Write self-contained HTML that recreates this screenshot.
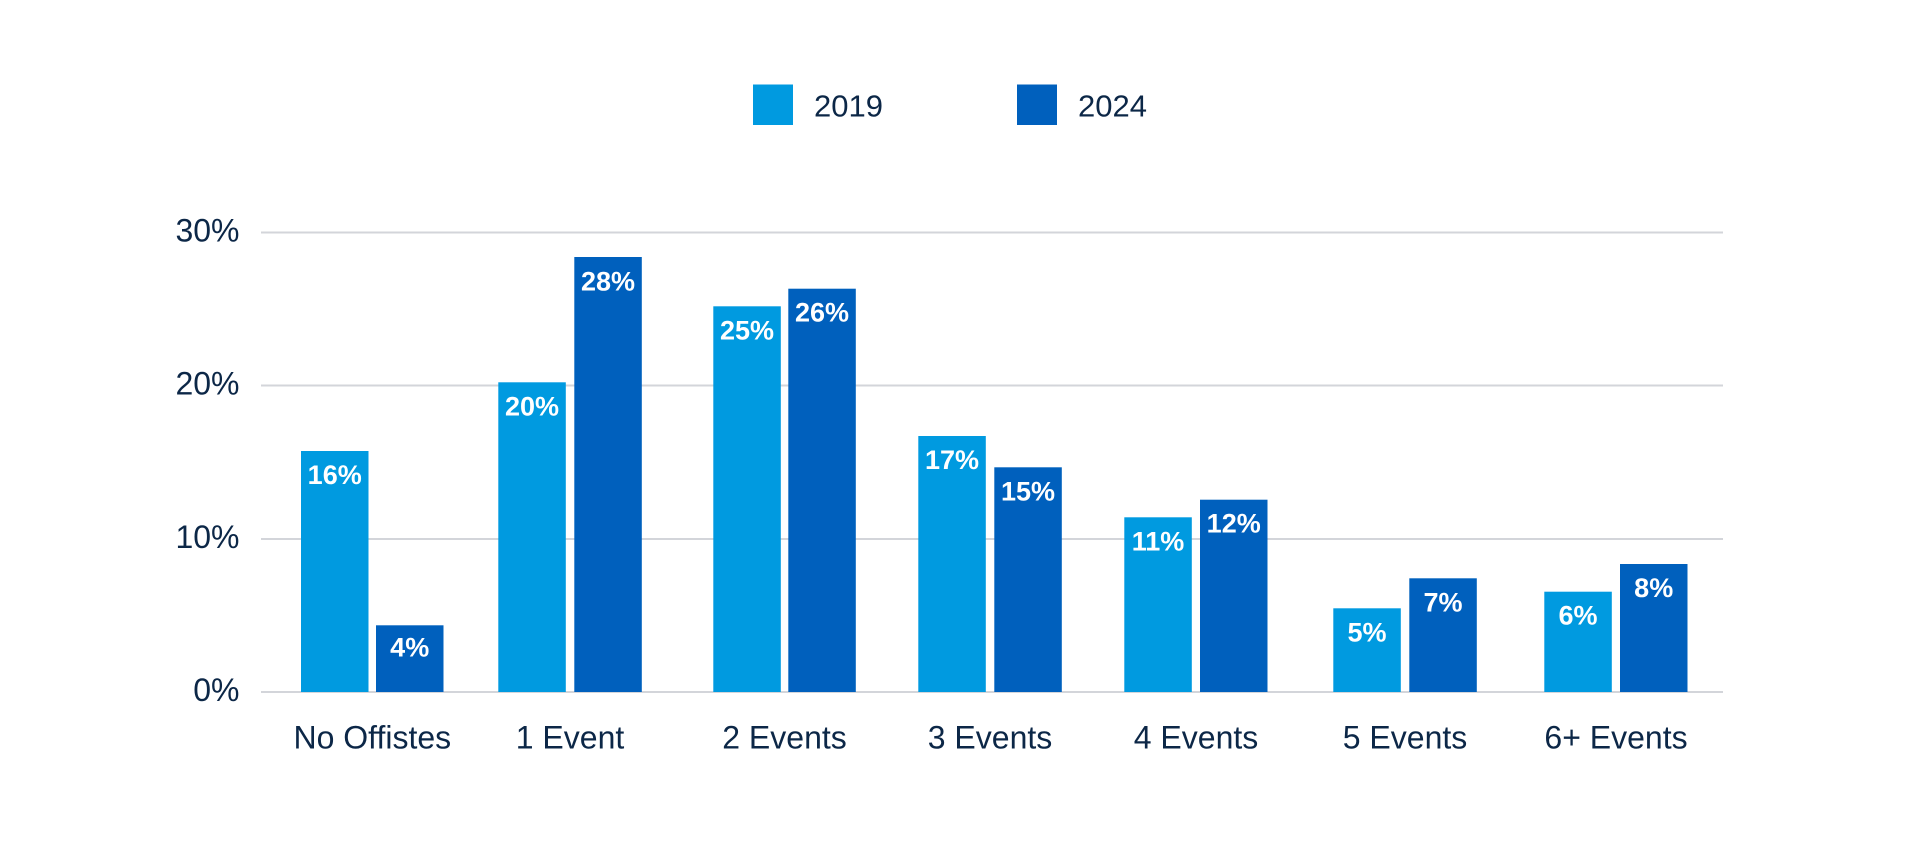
<!DOCTYPE html>
<html><head><meta charset="utf-8"><style>
html,body{margin:0;padding:0;background:#fff;}
svg{display:block;}
text{font-family:"Liberation Sans",sans-serif;}
</style></head><body>
<svg width="1921" height="848" viewBox="0 0 1921 848" xmlns="http://www.w3.org/2000/svg">
<rect width="1921" height="848" fill="#fff"/>
<!-- legend -->
<rect x="753" y="84.5" width="40" height="40.5" fill="#009ae0"/>
<text x="814" y="116.7" font-size="31" fill="#0c2747">2019</text>
<rect x="1017" y="84.5" width="40" height="40.5" fill="#0060bd"/>
<text x="1078" y="116.7" font-size="31" fill="#0c2747">2024</text>
<!-- gridlines -->
<g stroke="#d3d5da" stroke-width="2">
<line x1="261" y1="232.5" x2="1723" y2="232.5"/>
<line x1="261" y1="385.5" x2="1723" y2="385.5"/>
<line x1="261" y1="539" x2="1723" y2="539"/>
<line x1="261" y1="692" x2="1723" y2="692"/>
</g>
<!-- y labels -->
<g font-size="32" fill="#0c2747" text-anchor="end">
<text x="239.5" y="241.7">30%</text>
<text x="239.5" y="394.7">20%</text>
<text x="239.5" y="548">10%</text>
<text x="239.5" y="701">0%</text>
</g>
<!-- bars -->
<g fill="#009ae0">
<rect x="301" y="451" width="67.5" height="241"/>
<rect x="498.3" y="382.3" width="67.5" height="309.7"/>
<rect x="713.3" y="306.3" width="67.5" height="385.7"/>
<rect x="918.3" y="436" width="67.5" height="256"/>
<rect x="1124.3" y="517.3" width="67.5" height="174.7"/>
<rect x="1333.3" y="608.3" width="67.5" height="83.7"/>
<rect x="1544.3" y="591.7" width="67.5" height="100.3"/>
</g>
<g fill="#0060bd">
<rect x="376" y="625.3" width="67.5" height="66.7"/>
<rect x="574.3" y="257" width="67.5" height="435"/>
<rect x="788.3" y="288.7" width="67.5" height="403.3"/>
<rect x="994.3" y="467.3" width="67.5" height="224.7"/>
<rect x="1200" y="499.7" width="67.5" height="192.3"/>
<rect x="1409.3" y="578.3" width="67.5" height="113.7"/>
<rect x="1620" y="564" width="67.5" height="128"/>
</g>
<!-- value labels -->
<g font-size="27" font-weight="bold" fill="#fff" text-anchor="middle">
<text x="334.7" y="484">16%</text>
<text x="409.7" y="656.3">4%</text>
<text x="532" y="415.5">20%</text>
<text x="608" y="290.5">28%</text>
<text x="747" y="339.5">25%</text>
<text x="822" y="321.7">26%</text>
<text x="952" y="469">17%</text>
<text x="1028" y="500.3">15%</text>
<text x="1158" y="550.3">11%</text>
<text x="1233.7" y="532.7">12%</text>
<text x="1367" y="641.3">5%</text>
<text x="1443" y="611.3">7%</text>
<text x="1578" y="624.7">6%</text>
<text x="1653.7" y="597">8%</text>
</g>
<!-- x labels -->
<g font-size="32" fill="#0c2747" text-anchor="middle">
<text x="372.3" y="748.3">No Offistes</text>
<text x="570" y="748.3">1 Event</text>
<text x="784.5" y="748.3">2 Events</text>
<text x="990" y="748.3">3 Events</text>
<text x="1196" y="748.3">4 Events</text>
<text x="1405" y="748.3">5 Events</text>
<text x="1616" y="748.3">6+ Events</text>
</g>
</svg>
</body></html>
